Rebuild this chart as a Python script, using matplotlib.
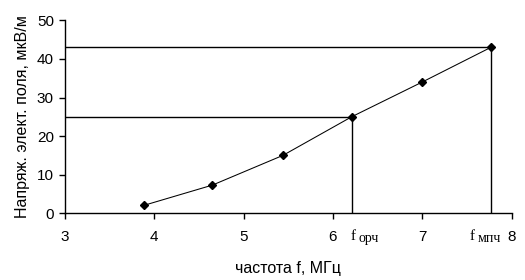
import matplotlib
matplotlib.use("Agg")
import matplotlib.pyplot as plt

freq = [3.89, 4.65, 5.44, 6.21, 7.0, 7.77]
field = [2.1, 7.3, 15.0, 25.0, 34.0, 43.0]
f_orch = 6.21
e_orch = 25.0
f_mpch = 7.77
e_mpch = 43.0
xticks = [3, 4, 5, 6, 7, 8]
yticks = [0, 10, 20, 30, 40, 50]
sub_labels = ['орч', 'мпч']

plt.rcParams['font.family'] = ['Liberation Sans', 'DejaVu Sans']
fig = plt.figure(figsize=(5.25, 2.8), dpi=100)
ax = fig.add_axes([65/525, 1-213.3/280, (511.5-65)/525, (213.3-20.3)/280])

ax.plot(freq, field, color='black', lw=0.75, marker='D', ms=4.5, mfc='black', mec='black', zorder=3)
# guide lines
ax.plot([3, f_orch], [e_orch, e_orch], color='black', lw=1.0)
ax.plot([f_orch, f_orch], [0, e_orch], color='black', lw=1.0)
ax.plot([3, f_mpch], [e_mpch, e_mpch], color='black', lw=1.0)
ax.plot([f_mpch, f_mpch], [0, e_mpch], color='black', lw=1.0)

ax.set_xlim(3, 8)
ax.set_ylim(0, 50)
ax.set_xticks(xticks)
ax.set_yticks(yticks)
ax.set_xticklabels([str(v) for v in xticks])
ax.set_yticklabels([str(v) for v in yticks])
for s in ['top', 'right']:
    ax.spines[s].set_visible(False)
for s in ['left', 'bottom']:
    ax.spines[s].set_linewidth(1.0)
ax.tick_params(direction='out', length=4, width=1.0, labelsize=11, pad=8)
ax.tick_params(axis='y', pad=4)

ax.set_xlabel('частота f, МГц', fontsize=11.5, labelpad=12)
ax.set_ylabel('Напряж. элект. поля, мкВ/м', fontsize=11.5, labelpad=5)

# frequency annotations (f with subscript)
trans = ax.get_xaxis_transform()
for fx, sub, dx in [(f_orch, sub_labels[0], -1), (f_mpch, sub_labels[1], -21)]:
    ax.annotate('f', xy=(fx, 0), xycoords=trans, xytext=(dx, -27),
                textcoords='offset pixels', ha='left', va='baseline',
                fontsize=11, family='Liberation Serif')
    ax.annotate(sub, xy=(fx, 0), xycoords=trans, xytext=(dx + 8, -29),
                textcoords='offset pixels', ha='left', va='baseline',
                fontsize=10, family='Liberation Serif')

fig.savefig('out.png', dpi=100)
